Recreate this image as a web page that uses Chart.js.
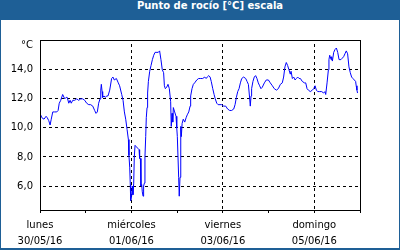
<!DOCTYPE html>
<html>
<head>
<meta charset="utf-8">
<script src="https://cdn.jsdelivr.net/npm/chart.js@4/dist/chart.umd.min.js"></script>
<style>
  body { margin: 0; }
  #box { position: relative; width: 400px; height: 250px; background: #1e5f96; }
  #head { height: 20px; line-height: 20px; padding-left: 20px; text-align: center; color: #fff;
          font: bold 10px "DejaVu Sans", sans-serif; }
  #inner { position: absolute; left: 1px; top: 20px; width: 398px; height: 228px; background: #fff; }
</style>
</head>
<body>
<div id="box">
  <div id="head">Punto de rocío [°C] escala</div>
  <div id="inner"><canvas id="myChart" width="398" height="228"></canvas></div>
</div>
<script>
// hours since 30/05/16 00:00
var hours = [0, 1.0, 2.1, 3.2, 3.8, 4.6, 5.3, 5.9, 6.7, 7.7,
  8.8, 9.5, 10.1, 10.9, 11.9, 13.0, 13.7, 14.3, 15.1, 15.8,
  16.4, 17.2, 18.2, 19.3, 20.3, 21.4, 22.4, 23.5, 24.5, 25.6,
  26.6, 27.7, 28.7, 29.4, 30.1, 30.8, 31.5, 31.9, 32.2, 32.6,
  32.9, 33.6, 34.3, 35.0, 35.7, 36.6, 37.6, 38.3, 39.0, 40.1,
  41.1, 41.8, 42.9, 43.6, 44.3, 45.0, 45.7, 46.4, 46.7, 47.1,
  47.4, 47.6, 48.1, 48.5, 48.8, 49.2, 49.5, 49.9, 50.6, 51.3,
  52.0, 52.3, 52.7, 53.0, 53.4, 53.7, 54.1, 54.4, 54.8, 55.1,
  55.5, 55.8, 56.2, 56.5, 56.9, 57.6, 58.3, 59.0, 59.7, 60.4,
  61.4, 62.1, 62.8, 63.5, 64.2, 64.9, 65.3, 65.8, 66.5, 67.2,
  67.9, 68.6, 68.9, 69.3, 69.7, 70.0, 70.7, 71.4, 71.8, 72.1,
  72.8, 73.1, 73.5, 73.9, 74.2, 74.6, 75.2, 76.0, 76.7, 77.3,
  78.1, 78.8, 79.1, 79.8, 80.5, 81.2, 82.3, 83.3, 84.4, 85.4,
  86.5, 87.2, 87.8, 88.6, 89.3, 89.9, 90.7, 91.4, 92.0, 92.8,
  93.5, 94.5, 95.4, 96.4, 97.5, 98.5, 99.6, 100.6, 101.7, 102.4,
  103.1, 103.8, 104.5, 105.2, 105.9, 106.9, 108.0, 108.7, 109.4, 110.1,
  110.4, 110.8, 111.1, 111.8, 112.5, 113.2, 113.9, 114.6, 115.3, 116.0,
  116.7, 117.8, 118.8, 119.9, 120.9, 122.0, 123.0, 124.1, 125.1, 126.2,
  127.2, 127.9, 128.6, 129.3, 130.0, 130.7, 131.4, 131.8, 132.5, 133.2,
  133.9, 134.6, 135.3, 136.0, 136.7, 137.7, 138.8, 139.5, 140.2, 140.9,
  141.9, 143.0, 143.7, 144.4, 145.1, 145.8, 146.8, 147.9, 148.9, 149.6,
  150.0, 150.7, 151.4, 151.7, 152.1, 152.4, 152.8, 153.1, 153.5, 154.2,
  154.9, 155.6, 156.3, 157.0, 158.0, 158.7, 159.4, 160.1, 160.8, 161.5,
  162.2, 162.9, 163.6, 164.3, 165.0, 165.7, 166.0, 166.4, 166.7];

var dewPoint = [11.0, 10.7, 10.6, 10.8, 10.7, 10.5, 10.2, 10.6, 11.1, 11.1,
  11.1, 11.2, 11.7, 11.9, 12.3, 12.0, 12.1, 12.1, 11.7, 11.9,
  11.7, 11.9, 11.9, 12.0, 11.9, 12.0, 12.0, 11.9, 11.7, 11.6,
  11.6, 11.5, 11.2, 11.0, 11.1, 11.7, 12.0, 12.6, 13.0, 12.5,
  12.1, 12.2, 12.1, 12.2, 12.2, 12.6, 13.4, 13.5, 13.3, 13.4,
  13.1, 12.9, 12.3, 11.9, 11.1, 10.6, 9.9, 9.2, 8.1, 7.3,
  6.1, 5.0, 5.3, 6.0, 5.4, 6.2, 8.0, 8.8, 8.7, 8.6,
  8.5, 7.9, 7.9, 6.0, 6.1, 5.6, 5.3, 6.0, 6.2, 8.0,
  9.4, 10.7, 11.4, 12.4, 13.2, 13.9, 14.3, 14.7, 15.0, 15.2,
  15.2, 15.2, 15.3, 14.7, 14.0, 13.8, 12.9, 12.7, 12.8, 13.0,
  12.7, 11.8, 10.1, 11.0, 10.4, 11.4, 11.1, 10.8, 10.0, 9.4,
  6.6, 5.3, 6.6, 10.1, 9.4, 10.3, 10.6, 10.4, 10.7, 10.9,
  11.1, 11.5, 12.2, 12.7, 13.0, 13.1, 13.3, 13.4, 13.4, 13.4,
  13.5, 13.4, 13.5, 13.6, 13.5, 13.2, 12.7, 12.3, 12.0, 11.7,
  11.6, 11.6, 11.6, 11.5, 11.5, 11.3, 11.2, 11.2, 11.3, 11.6,
  12.1, 12.5, 12.7, 13.1, 13.4, 13.5, 13.4, 13.2, 13.0, 12.0,
  11.5, 12.2, 12.7, 13.2, 13.5, 13.6, 13.4, 13.1, 12.9, 12.7,
  12.8, 13.1, 13.3, 13.3, 13.1, 12.9, 12.7, 12.6, 12.7, 13.0,
  13.1, 13.5, 14.2, 14.5, 14.3, 14.0, 13.7, 13.9, 13.4, 13.5,
  13.3, 13.4, 13.5, 13.4, 13.4, 13.2, 13.1, 13.1, 12.7, 12.6,
  12.5, 12.6, 12.7, 12.9, 12.6, 12.5, 12.5, 12.5, 12.4, 12.5,
  12.3, 13.1, 14.0, 14.7, 15.0, 14.9, 14.7, 14.9, 14.6, 15.2,
  15.4, 15.5, 15.2, 14.7, 14.7, 14.8, 14.9, 15.1, 15.3, 15.1,
  14.2, 13.8, 13.5, 13.4, 13.3, 13.2, 12.9, 12.6, 12.4];

var dayTicks = [0, 48, 96, 144];
var dayNames = ['lunes', 'miércoles', 'viernes', 'domingo'];
var dayDates = ['30/05/16', '01/06/16', '03/06/16', '05/06/16'];

var font = { family: '"DejaVu Sans", sans-serif', size: 10, lineHeight: 1.6 };

var ctx = document.getElementById('myChart').getContext('2d', { willReadFrequently: true });

// dashed grid as a stroke pattern (3px on, 3px off)
function stripes(w, h) {
   var p = document.createElement('canvas');
   p.width = w; p.height = h;
   var g = p.getContext('2d');
   g.fillStyle = '#000';
   if (w > 1) g.fillRect(0, 0, 3, 1); else g.fillRect(0, 0, 1, 3);
   return ctx.createPattern(p, 'repeat');
}
var hDash = stripes(6, 1);
var vDash = stripes(1, 6);

// full black frame round the plot
var frame = {
   id: 'frame',
   afterDraw: function(chart) {
      var a = chart.chartArea, c = chart.ctx;
      var l = Math.round(a.left - 0.5) + 0.5, t = Math.round(a.top - 0.5) + 0.5;
      var r = Math.round(a.right - 0.5) + 0.5, b = Math.round(a.bottom - 0.5) + 0.5;
      c.save();
      c.setLineDash([]);
      c.strokeStyle = '#000';
      c.lineWidth = 1;
      c.strokeRect(l, t, r - l, b - t);
      c.restore();
   }
};

var chart = new Chart(ctx, {
   type: 'line',
   data: {
      datasets: [{
         data: hours.map(function(h, i) { return { x: h, y: dewPoint[i] }; }),
         borderColor: '#0000ff',
         borderWidth: 1,
         pointRadius: 0,
         tension: 0
      }]
   },
   options: {
      responsive: false,
      animation: false,
      layout: { padding: { top: 20, right: 39, bottom: 0, left: 0 } },
      plugins: { legend: { display: false }, tooltip: { enabled: false } },
      scales: {
         x: {
            type: 'linear',
            min: 0,
            max: 168,
            afterFit: function(axis) { axis.height = 38; },
            border: { color: '#000' },
            grid: {
               color: function(c) {
                  var v = c.tick ? c.tick.value : 0;
                  return (v % 48 === 0 && v > 0 && v < 168) ? vDash : 'rgba(0,0,0,0)';
               },
               tickColor: '#000',
               tickLength: 3
            },
            ticks: {
               stepSize: 24,
               autoSkip: false,
               maxRotation: 0,
               padding: 4,
               color: '#000',
               font: font,
               callback: function(v) {
                  var i = dayTicks.indexOf(v);
                  return i < 0 ? '' : [dayNames[i], dayDates[i]];
               }
            }
         },
         y: {
            min: 4.35,
            max: 16.05,
            afterFit: function(axis) { axis.width = 39; },
            border: { color: '#000' },
            grid: {
               drawTicks: false,
               color: function(c) {
                  return c.tick && c.tick.value < 16 ? hDash : 'rgba(0,0,0,0)';
               }
            },
            ticks: {
               stepSize: 2,
               includeBounds: false,
               padding: 7,
               color: '#000',
               font: { family: '"DejaVu Sans", sans-serif', size: 10, lineHeight: 1 },
               callback: function(v) {
                  // unit label sits a little under the top edge
                  return v === 16 ? ['', '°C'] : v.toFixed(1).replace('.', ',');
               }
            }
         }
      }
   },
   plugins: [frame]
});
</script>
</body>
</html>
